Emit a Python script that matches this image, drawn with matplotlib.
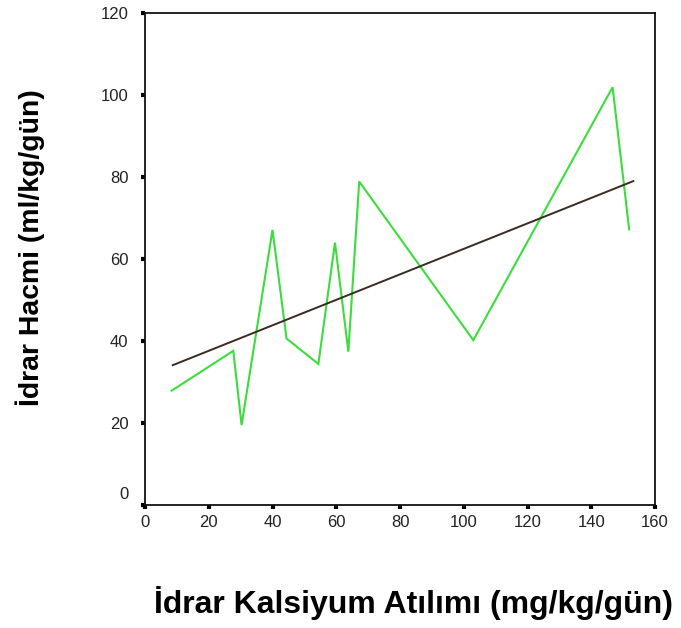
import matplotlib
matplotlib.use('Agg')
import matplotlib.pyplot as plt
import matplotlib.transforms as mtransforms
import numpy as np

# values
calcium = [8.4, 27.7, 30.3, 40.0, 44.4, 54.4, 59.6, 63.8, 67.2, 103.0, 146.7, 151.9]
volume = [27.9, 37.6, 19.5, 67.1, 40.6, 34.4, 64.0, 37.4, 78.9, 40.2, 101.9, 67.2]

# fitted line, end points as drawn
fit_x = [8.7, 153.2]
fit_y = [34.1, 79.0]

x_ticks = [0, 20, 40, 60, 80, 100, 120, 140, 160]
y_ticks = [0, 20, 40, 60, 80, 100, 120]

plt.rcParams['font.family'] = ['Liberation Sans', 'DejaVu Sans']

fig = plt.figure(figsize=(6.81, 6.28), dpi=100)
ax = fig.add_axes([145 / 681, 1 - 505 / 628, 510 / 681, 492 / 628])

ax.plot(calcium, volume, color='#3ddc3d', lw=1.5, solid_joinstyle='miter')
ax.plot(fit_x, fit_y, color='#3b2a22', lw=1.4)

ax.set_xlim(0, 160)
ax.set_ylim(0, 120)
ax.set_xticks(x_ticks)
ax.set_yticks(y_ticks)

for s in ax.spines.values():
	s.set_linewidth(1.3)
	s.set_color('#111111')

ax.tick_params(direction='out', length=3, width=3, color='black',
	labelsize=12, labelcolor='#222222')
ax.tick_params(axis='x', pad=4)
ax.tick_params(axis='y', pad=9)

# the 0 on the y axis sits a bit higher, as in the original
zero = ax.get_yticklabels()[0]
zero.set_transform(zero.get_transform()
	+ mtransforms.ScaledTranslation(0, 0.12, fig.dpi_scale_trans))

ax.set_xlabel('İdrar Kalsiyum Atılımı (mg/kg/gün)', fontsize=23,
	fontweight='bold')
ax.xaxis.set_label_coords((413 - 145) / 510, (505 - 603) / 492)
ax.set_ylabel('İdrar Hacmi (ml/kg/gün)', fontsize=20.4, fontweight='bold')
ax.yaxis.set_label_coords((30 - 145) / 510, (505 - 248) / 492)
ax.xaxis.label.set_verticalalignment('center')
ax.yaxis.label.set_verticalalignment('center')

fig.savefig('out.png', dpi=100)
plt.close(fig)
